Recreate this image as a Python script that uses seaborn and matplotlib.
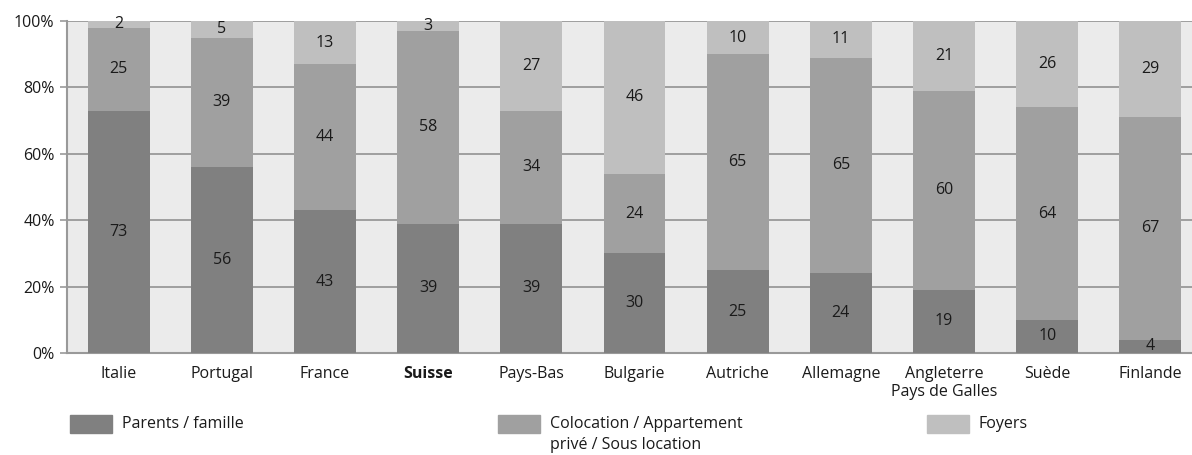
import numpy as np
import pandas as pd
import matplotlib
matplotlib.use("Agg")
import matplotlib.pyplot as plt
import seaborn as sns
from matplotlib.patches import Rectangle

# data (percent)
countries = ["Italie", "Portugal", "France", "Suisse", "Pays-Bas", "Bulgarie",
             "Autriche", "Allemagne", "Angleterre\nPays de Galles", "Suède", "Finlande"]
parents = [73, 56, 43, 39, 39, 30, 25, 24, 19, 10, 4]
colocation = [25, 39, 44, 58, 34, 24, 65, 65, 60, 64, 67]
foyers = [2, 5, 13, 3, 27, 46, 10, 11, 21, 26, 29]
series_names = ["Parents / famille", "Colocation / Appartement\nprivé / Sous location", "Foyers"]
highlight = "Suisse"

colors = ["#808080", "#a0a0a0", "#bfbfbf"]

df = pd.DataFrame({"pays": countries, "parents": parents,
                   "colocation": colocation, "foyers": foyers})
df["c1"] = df["parents"]
df["c2"] = df["parents"] + df["colocation"]
df["c3"] = df["c2"] + df["foyers"]

sns.set_style("white")
plt.rcParams["font.family"] = ["Open Sans", "DejaVu Sans"]
plt.rcParams["font.size"] = 11.5

W, H = 1192, 455
fig = plt.figure(figsize=(W / 100, H / 100), dpi=100)
# plot area runs slightly past the right edge in the reference
ax = fig.add_axes([67 / W, 1 - 353 / H, 1135 / W, (353 - 21) / H])
ax.set_facecolor("#ebebeb")

# stacked bars: draw cumulative totals back to front
for col, c in zip(["c3", "c2", "c1"], colors[::-1]):
    sns.barplot(data=df, x="pays", y=col, color=c, width=0.6,
                saturation=1, linewidth=0, ax=ax, zorder=3)

# value labels centred in each segment
for i, row in df.iterrows():
    bottom = 0
    for key in ["parents", "colocation", "foyers"]:
        v = row[key]
        ax.text(i, bottom + v / 2, f"{v}", ha="center", va="center",
                fontsize=11.5, color="#1a1a1a", zorder=4)
        bottom += v

ax.set_ylim(0, 100)
ax.set_xlim(-0.5, len(countries) - 0.5)
ax.set_yticks(np.arange(0, 101, 20))
ax.set_yticklabels([f"{t}%" for t in range(0, 101, 20)], fontsize=11.5, color="#1a1a1a")
ax.yaxis.grid(True, color="#999999", linewidth=1.3, zorder=1)
ax.set_axisbelow(True)
ax.tick_params(axis="y", length=5, width=1.2, color="#999999", pad=4, left=True)
ax.tick_params(axis="x", length=0, pad=9, labelsize=11.5, labelcolor="#1a1a1a")
ax.set_xlabel("")
ax.set_ylabel("")
for lab in ax.get_xticklabels():
    if lab.get_text() == highlight:
        lab.set_fontweight("bold")

for s in ["top", "right"]:
    ax.spines[s].set_visible(False)
for s in ["left", "bottom"]:
    ax.spines[s].set_color("#999999")
    ax.spines[s].set_linewidth(1.5)

# legend drawn by hand so the swatch lines up with the first text line
legend_x = [70, 498, 927]
for x0, name, c in zip(legend_x, series_names, colors):
    fig.patches.append(Rectangle((x0 / W, 1 - 433 / H), 42 / W, 18 / H,
                                 transform=fig.transFigure, color=c))
    fig.text((x0 + 52) / W, 1 - 416 / H, name, ha="left", va="top",
             fontsize=11.5, color="#1a1a1a", linespacing=1.45)

fig.savefig("out.png", dpi=100)
